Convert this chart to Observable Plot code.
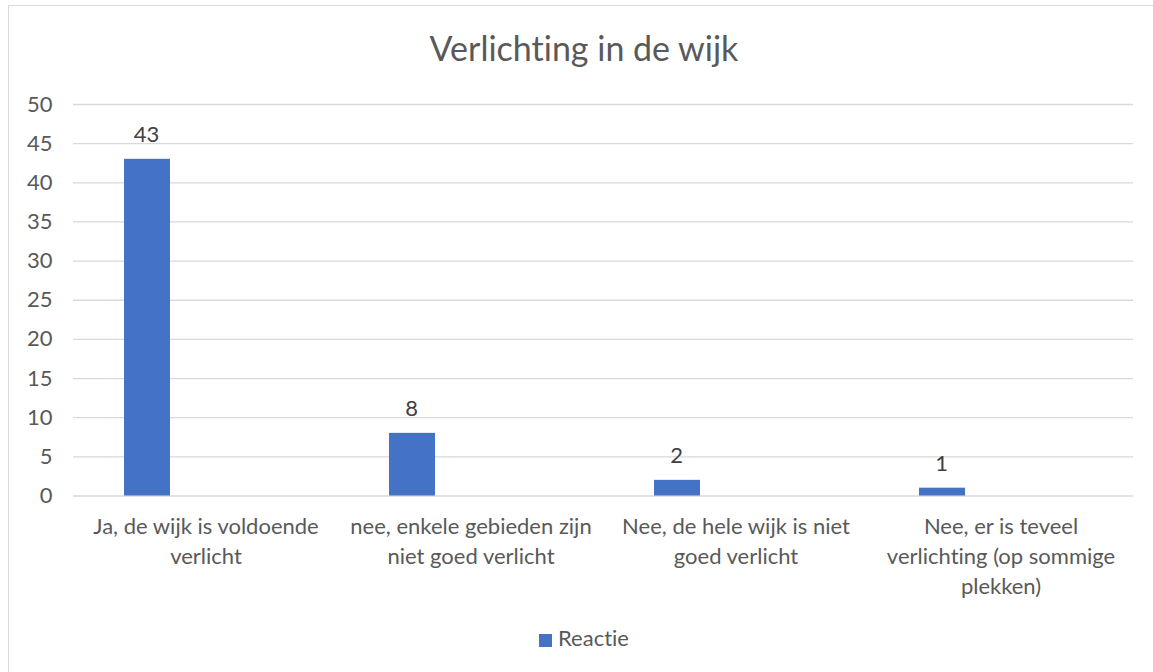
<!DOCTYPE html>
<html>
<head>
<meta charset="utf-8">
<script src="https://cdn.jsdelivr.net/npm/d3@7"></script>
<script src="https://cdn.jsdelivr.net/npm/@observablehq/plot@0.6"></script>
<style>
  html, body { margin: 0; padding: 0; background: #fff; overflow: hidden; }
  body { width: 1153px; height: 672px; position: relative; font-family: "Lato", sans-serif; font-variant-ligatures: none; font-feature-settings: "liga" 0, "clig" 0; }
  svg text { font-variant-ligatures: none; font-feature-settings: "liga" 0, "clig" 0; }
  #frame { position: absolute; left: 8px; top: 5px; width: 1200px; height: 720px; border: 1px solid #d9d9d9; box-sizing: border-box; }
  #title { position: absolute; left: 8px; width: 1152px; top: 31px; text-align: center; font-size: 34px; line-height: 34px; color: #595959; }
  #chart { position: absolute; left: 0; top: 90px; }
  #legend { position: absolute; left: 8px; width: 1152px; top: 625px; text-align: center; font-size: 22px; line-height: 26px; color: #595959; }
  #legend .sw { display: inline-block; width: 13px; height: 13px; background: #4472c4; margin-right: 6px; vertical-align: -1px; }
</style>
</head>
<body>
<div id="frame"></div>
<div id="title">Verlichting in de wijk</div>
<div id="chart"></div>
<div id="legend"><span class="sw"></span>Reactie</div>
<script>
const categories = [
  "Ja, de wijk is voldoende verlicht",
  "nee, enkele gebieden zijn niet goed verlicht",
  "Nee, de hele wijk is niet goed verlicht",
  "Nee, er is teveel verlichting (op sommige plekken)"
];
const tickLabels = [
  "Ja, de wijk is voldoende\nverlicht",
  "nee, enkele gebieden zijn\nniet goed verlicht",
  "Nee, de hele wijk is niet\ngoed verlicht",
  "Nee, er is teveel\nverlichting (op sommige\nplekken)"
];
const values = [43, 8, 2, 1];
const yTicks = [0, 5, 10, 15, 20, 25, 30, 35, 40, 45, 50];
const seriesName = "Reactie";

const data = categories.map((c, i) => ({cat: c, value: values[i]}));
const labelOf = new Map(categories.map((c, i) => [c, tickLabels[i]]));

const chart = Plot.plot({
  width: 1153,
  height: 525,
  marginLeft: 73,
  marginRight: 20,
  marginTop: 14,
  marginBottom: 119.5,
  style: {fontFamily: "Lato, sans-serif", color: "#595959", background: "transparent"},
  x: {domain: categories, padding: 0},
  y: {domain: [0, 50]},
  marks: [
    Plot.ruleY(yTicks, {stroke: "#d9d9d9", strokeWidth: 1.3}),
    Plot.barY(data, {x: "cat", y: "value", fill: "#4472c4", insetLeft: 51, insetRight: 168}),
    Plot.text(data, {x: "cat", y: "value", text: d => String(d.value), dx: -59.5, dy: -17, lineAnchor: "bottom", fontSize: 22, fill: "#404040"}),
    Plot.axisY(yTicks, {tickSize: 0, tickPadding: 21, fontSize: 22, label: null}),
    Plot.axisX({tickSize: 0, tickPadding: 17, fontSize: 22, lineHeight: 1.364, label: null, tickFormat: d => labelOf.get(d)})
  ]
});
document.getElementById("chart").appendChild(chart);
</script>
</body>
</html>
